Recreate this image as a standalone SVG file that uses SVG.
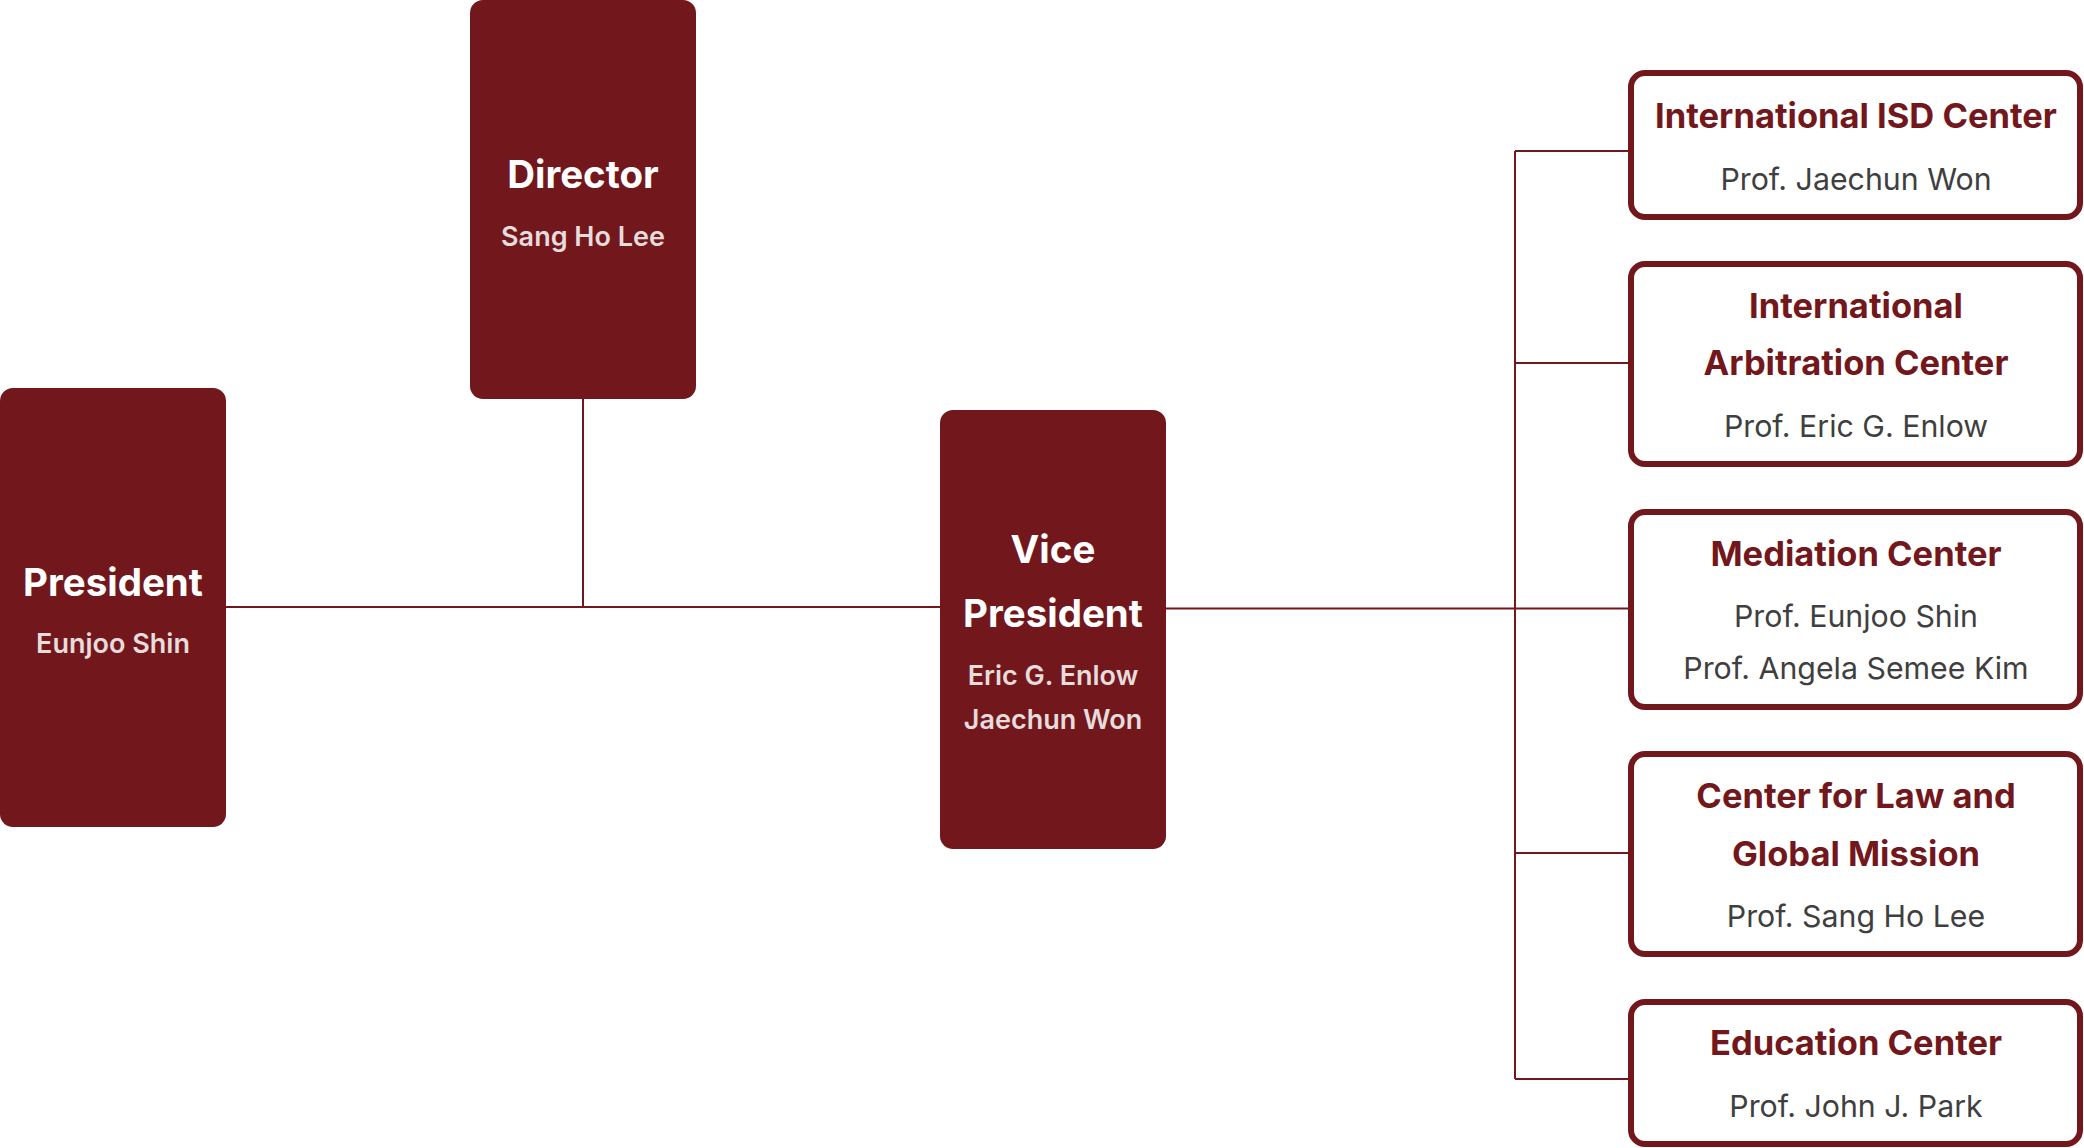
<svg xmlns="http://www.w3.org/2000/svg" width="2084" height="1148" viewBox="0 0 2084 1148">
<style>
.dark{fill:#72171C}
.card{fill:#FFFFFF;stroke:#72171C;stroke-width:6}
.conn{stroke:#72171C;stroke-width:2;fill:none}
.dt{font-family:Inter,"Noto Sans","Liberation Sans",sans-serif;font-weight:700;font-size:38.5px;fill:#FFFFFF;text-anchor:middle}
.ds{font-family:Inter,"Noto Sans","Liberation Sans",sans-serif;font-weight:600;font-size:27px;fill:#E6DCDC;text-anchor:middle}
.ct{font-family:Inter,"Noto Sans","Liberation Sans",sans-serif;font-weight:700;font-size:34.5px;fill:#72171C;text-anchor:middle}
.cs{font-family:Inter,"Noto Sans","Liberation Sans",sans-serif;font-weight:400;font-size:30.3px;fill:#3F3F3F;text-anchor:middle}
</style>
<rect width="2084" height="1148" fill="#FFFFFF"/>
<g id="connectors">
<path class="conn" d="M226 607 H940"/>
<path class="conn" d="M583 399 V607"/>
<path class="conn" d="M1165 608.5 H1628"/>
<path class="conn" d="M1515 151 V1079"/>
<path class="conn" d="M1515 151 H1628"/>
<path class="conn" d="M1515 363 H1628"/>
<path class="conn" d="M1515 853 H1628"/>
<path class="conn" d="M1515 1079 H1628"/>
</g>
<g id="director">
<rect class="dark" x="470" y="0" width="226" height="399" rx="13"/>
<text class="dt" x="583" y="188">Director</text>
<text class="ds" x="583" y="246">Sang Ho Lee</text>
</g>
<g id="president">
<rect class="dark" x="0" y="388" width="226" height="439" rx="13"/>
<text class="dt" x="113" y="596">President</text>
<text class="ds" x="113" y="653">Eunjoo Shin</text>
</g>
<g id="vice-president">
<rect class="dark" x="940" y="410" width="226" height="439" rx="13"/>
<text class="dt" x="1053" y="563">Vice</text>
<text class="dt" x="1053" y="627">President</text>
<text class="ds" x="1053" y="685">Eric G. Enlow</text>
<text class="ds" x="1053" y="729">Jaechun Won</text>
</g>
<g id="isd-center">
<rect class="card" x="1631" y="73" width="449" height="144" rx="14"/>
<text class="ct" x="1856" y="128">International ISD Center</text>
<text class="cs" x="1856" y="190">Prof. Jaechun Won</text>
</g>
<g id="arbitration-center">
<rect class="card" x="1631" y="264" width="449" height="200" rx="14"/>
<text class="ct" x="1856" y="318">International</text>
<text class="ct" x="1856" y="375">Arbitration Center</text>
<text class="cs" x="1856" y="437">Prof. Eric G. Enlow</text>
</g>
<g id="mediation-center">
<rect class="card" x="1631" y="512" width="449" height="195" rx="14"/>
<text class="ct" x="1856" y="566">Mediation Center</text>
<text class="cs" x="1856" y="627">Prof. Eunjoo Shin</text>
<text class="cs" x="1856" y="679">Prof. Angela Semee Kim</text>
</g>
<g id="law-mission-center">
<rect class="card" x="1631" y="754" width="449" height="200" rx="14"/>
<text class="ct" x="1856" y="808">Center for Law and</text>
<text class="ct" x="1856" y="866">Global Mission</text>
<text class="cs" x="1856" y="927">Prof. Sang Ho Lee</text>
</g>
<g id="education-center">
<rect class="card" x="1631" y="1002" width="449" height="142" rx="14"/>
<text class="ct" x="1856" y="1055">Education Center</text>
<text class="cs" x="1856" y="1117">Prof. John J. Park</text>
</g>
</svg>
